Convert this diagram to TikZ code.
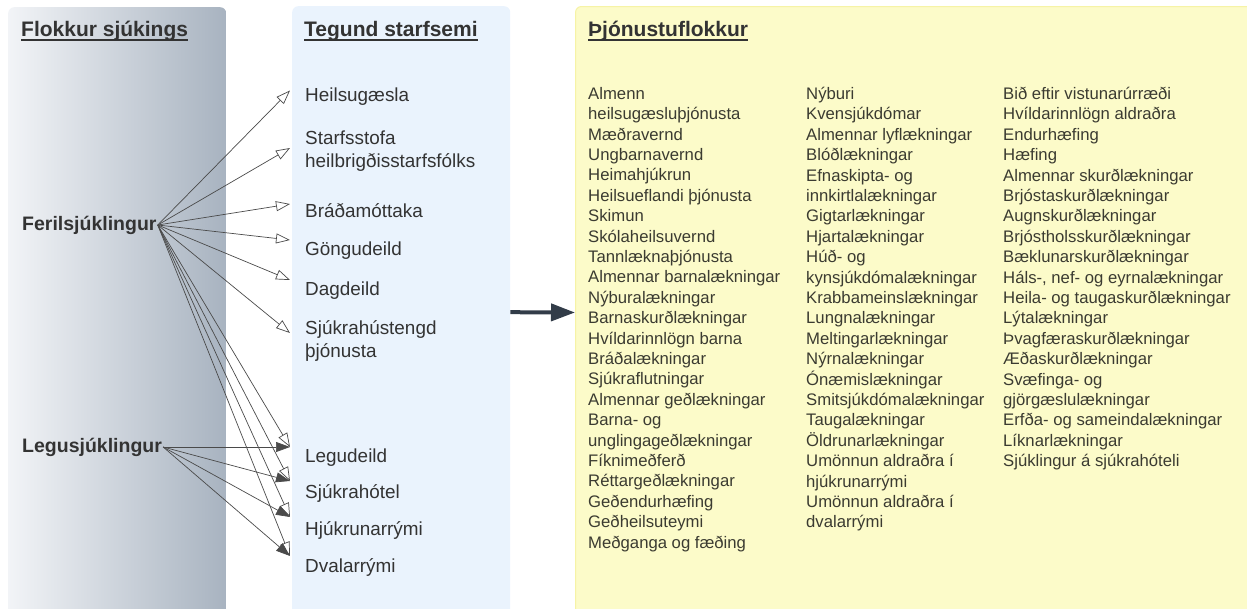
\documentclass[tikz,border=0pt]{standalone}
\usepackage{fontspec}
\setmainfont{Liberation Sans}
\usetikzlibrary{arrows.meta,positioning}

\definecolor{patleft}{HTML}{F2F4F7}
\definecolor{patright}{HTML}{A8B3C0}
\definecolor{typfill}{HTML}{EAF3FD}
\definecolor{svcfill}{HTML}{FCFBC9}
\definecolor{svcedge}{HTML}{F6F3A6}
\definecolor{ink}{HTML}{333333}
\definecolor{svcink}{HTML}{3B3B31}
\definecolor{edgecol}{HTML}{4A4A4A}
\definecolor{bigcol}{HTML}{323C48}

\tikzset{
	panel/.style={anchor=north west, rounded corners=6pt, inner sep=0pt, minimum height=612pt},
	title/.style={font=\fontsize{21}{25}\selectfont\bfseries, text=ink, anchor=base west, inner sep=0pt},
	ul/.style={draw=ink, line width=1.5pt},
	patient/.style={font=\fontsize{19.5}{23}\selectfont\bfseries, text=ink, anchor=west, inner xsep=1pt, inner ysep=0pt},
	activity/.style={font=\fontsize{18.9}{22.5}\selectfont, text=ink, anchor=base west, align=left, inner sep=0pt},
	service/.style={font=\fontsize{16.7}{20.4}\selectfont, text=svcink, anchor=north west, align=left, inner sep=0pt},
	outpat/.style={draw=edgecol, line width=0.7pt, -{Triangle[open, fill=white, length=14pt, width=10pt]}},
	inpat/.style={draw=edgecol, line width=0.7pt, -{Triangle[length=14pt, width=10pt]}},
	bigarr/.style={draw=bigcol, line width=4pt, -{Triangle[length=24pt, width=17pt]}}
}

\begin{document}
\begin{tikzpicture}[x=1pt, y=-1pt]
	\useasboundingbox (0,0) rectangle (1247,608);
	
	\node[panel, minimum width=218pt, left color=patleft, right color=patright](pat) at (8,7){};
	\node[panel, minimum width=218pt, fill=typfill](typ) at (292,6){};
	\node[panel, minimum width=690pt, fill=svcfill, draw=svcedge, line width=1pt](svc) at (575,6){};
	
	\node[title](patt) at (21,36.7){Flokkur sjúkings};
	\node[title](typt) at (304,36.7){Tegund starfsemi};
	\node[title](svct) at (588,36.7){Þjónustuflokkur};
	\foreach \t in {patt, typt, svct}
		\draw[ul] ([yshift=-3.3pt]\t.base west) -- ([yshift=-3.3pt]\t.base east);
	
	\node[patient](feril) at (21,225){Ferilsjúklingur};
	\node[patient](legu) at (21,447){Legusjúklingur};
	
	\node[activity](heil) at (305,101.5){Heilsugæsla};
	\node[activity](star) at (305,167){Starfsstofa\\heilbrigðisstarfsfólks};
	\node[activity](brad) at (305,217){Bráðamóttaka};
	\node[activity](gong) at (305,255){Göngudeild};
	\node[activity](dag) at (305,295){Dagdeild};
	\node[activity](sjuk) at (305,357){Sjúkrahústengd\\þjónusta};
	\node[activity](legd) at (305,462){Legudeild};
	\node[activity](hot) at (305,498){Sjúkrahótel};
	\node[activity](hjuk) at (305,535){Hjúkrunarrými};
	\node[activity](dval) at (305,572){Dvalarrými};
	
	\node[service](svc1) at (588,87){Almenn\\heilsugæsluþjónusta\\Mæðravernd\\Ungbarnavernd\\Heimahjúkrun\\Heilsueflandi þjónusta\\Skimun\\Skólaheilsuvernd\\Tannlæknaþjónusta\\Almennar barnalækningar\\Nýburalækningar\\Barnaskurðlækningar\\Hvíldarinnlögn barna\\Bráðalækningar\\Sjúkraflutningar\\Almennar geðlækningar\\Barna- og\\unglingageðlækningar\\Fíknimeðferð\\Réttargeðlækningar\\Geðendurhæfing\\Geðheilsuteymi\\Meðganga og fæðing};
	\node[service](svc2) at (806,87){Nýburi\\Kvensjúkdómar\\Almennar lyflækningar\\Blóðlækningar\\Efnaskipta- og\\innkirtlalækningar\\Gigtarlækningar\\Hjartalækningar\\Húð- og\\kynsjúkdómalækningar\\Krabbameinslækningar\\Lungnalækningar\\Meltingarlækningar\\Nýrnalækningar\\Ónæmislækningar\\Smitsjúkdómalækningar\\Taugalækningar\\Öldrunarlækningar\\Umönnun aldraðra í\\hjúkrunarrými\\Umönnun aldraðra í\\dvalarrými};
	\node[service](svc3) at (1003,87){Bið eftir vistunarúrræði\\Hvíldarinnlögn aldraðra\\Endurhæfing\\Hæfing\\Almennar skurðlækningar\\Brjóstaskurðlækningar\\Augnskurðlækningar\\Brjóstholsskurðlækningar\\Bæklunarskurðlækningar\\Háls-, nef- og eyrnalækningar\\Heila- og taugaskurðlækningar\\Lýtalækningar\\Þvagfæraskurðlækningar\\Æðaskurðlækningar\\Svæfinga- og\\gjörgæslulækningar\\Erfða- og sameindalækningar\\Líknarlækningar\\Sjúklingur á sjúkrahóteli};
	
	\foreach \n/\d in {heil/11, star/19, brad/13, gong/15, dag/15, sjuk/24, legd/15, hot/17, hjuk/18, dval/16}
		\draw[outpat] (feril.east) -- ([xshift=-15pt, yshift=\d pt]\n.base west);
	\foreach \n/\d in {legd/15, hot/17, hjuk/18, dval/16}
		\draw[inpat] (legu.east) -- ([xshift=-15pt, yshift=\d pt]\n.base west);
	
	\draw[bigarr] (typ.east) -- (svc.west);
\end{tikzpicture}
\end{document}
